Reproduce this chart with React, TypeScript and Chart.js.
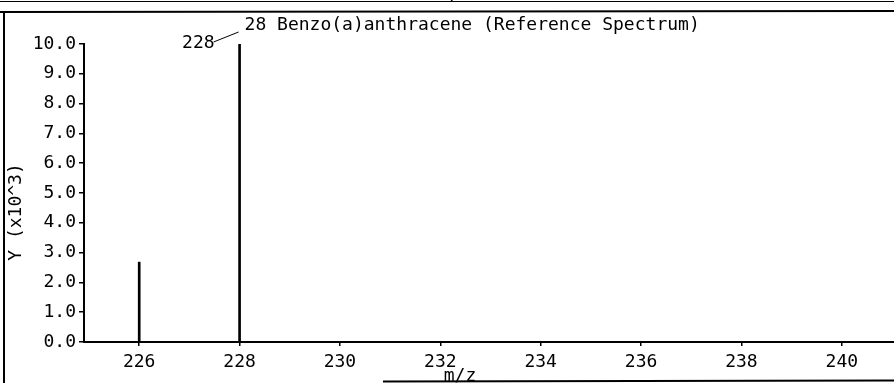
import React, { useEffect, useRef } from "react";
import { Chart, registerables } from "chart.js";

Chart.register(...registerables);

// ---- data ----
const peakMz = [226, 228];
const peakIntensity = [2.68, 10.0];
const xTickValues = [226, 228, 230, 232, 234, 236, 238, 240];
const yTickValues = [0, 1, 2, 3, 4, 5, 6, 7, 8, 9, 10];
const chartTitle = "28 Benzo(a)anthracene (Reference Spectrum)";
const yAxisTitle = "Y (x10^3)";
const xAxisTitle = "m/z";
const labeledPeak = 228;
const xMin = 224.9;
const xMax = 241.04;
const yMin = 0;
const yMax = 10;

const W = 894;
const H = 383;
const FONT = '"DejaVu Sans Mono", "Liberation Mono", monospace';

const decorPlugin = {
  id: "decor",
  afterDraw(chart: any) {
    const ctx = chart.ctx as CanvasRenderingContext2D;
    const xs = chart.scales.x;
    const ys = chart.scales.y;
    ctx.save();
    ctx.strokeStyle = "#000";
    ctx.fillStyle = "#000";

    // frame
    ctx.lineWidth = 1;
    ctx.beginPath();
    ctx.moveTo(0, 1.5);
    ctx.lineTo(W, 1.5);
    ctx.stroke();
    ctx.lineWidth = 2;
    ctx.beginPath();
    ctx.moveTo(0, 12);
    ctx.lineTo(W, 11);
    ctx.stroke();
    ctx.beginPath();
    ctx.moveTo(4, 12);
    ctx.lineTo(4, H);
    ctx.stroke();
    ctx.beginPath();
    ctx.moveTo(383, 381.5);
    ctx.lineTo(W, 380.5);
    ctx.stroke();

    ctx.font = `18px ${FONT}`;
    ctx.textBaseline = "middle";

    // clipped label from the panel above
    ctx.textAlign = "center";
    ctx.fillText(xAxisTitle, 455, -5);

    // title and peak label
    const px = xs.getPixelForValue(labeledPeak);
    const top = ys.getPixelForValue(yMax);
    ctx.textAlign = "left";
    ctx.fillText(chartTitle, px + 5, 25);
    ctx.textAlign = "right";
    ctx.fillText(String(labeledPeak), px - 25, top - 1);
    ctx.lineWidth = 1;
    ctx.beginPath();
    ctx.moveTo(px - 26, top - 2);
    ctx.lineTo(px - 1, top - 12);
    ctx.stroke();

    // axis titles
    ctx.textAlign = "center";
    ctx.fillText(xAxisTitle, 460, 376);
    ctx.save();
    ctx.translate(16, 212);
    ctx.rotate(-Math.PI / 2);
    ctx.fillText(yAxisTitle, 0, 0);
    ctx.restore();

    ctx.restore();
  },
};

export default function App() {
  const ref = useRef<HTMLCanvasElement | null>(null);

  useEffect(() => {
    if (!ref.current) return;
    const chart = new Chart(ref.current, {
      type: "bar",
      data: {
        datasets: [
          {
            data: peakMz.map((m, i) => ({ x: m, y: peakIntensity[i] })),
            backgroundColor: "#000",
            borderWidth: 0,
            barThickness: 2,
          },
        ],
      },
      options: {
        animation: false,
        responsive: false,
        devicePixelRatio: 1,
        layout: { padding: { top: 44, left: 0, right: 0, bottom: 0 } },
        plugins: {
          legend: { display: false },
          title: { display: false },
          tooltip: { enabled: false },
        },
        scales: {
          x: {
            type: "linear",
            min: xMin,
            max: xMax,
            offset: false,
            afterBuildTicks: (scale: any) => {
              scale.ticks = xTickValues.map((v) => ({ value: v }));
            },
            afterFit: (scale: any) => {
              scale.height = 41;
            },
            border: { display: true, color: "#000", width: 2 },
            grid: {
              display: true,
              offset: false,
              drawOnChartArea: false,
              drawTicks: true,
              tickLength: 4,
              color: "#000",
              lineWidth: 1.5,
            },
            ticks: {
              color: "#000",
              font: { family: FONT, size: 18 },
              padding: 6,
              maxRotation: 0,
              autoSkip: false,
              callback: (v: any) => String(v),
            },
          },
          y: {
            type: "linear",
            min: yMin,
            max: yMax,
            afterBuildTicks: (scale: any) => {
              scale.ticks = yTickValues.map((v) => ({ value: v }));
            },
            afterFit: (scale: any) => {
              scale.width = 84;
            },
            border: { display: true, color: "#000", width: 2 },
            grid: {
              display: true,
              drawOnChartArea: false,
              drawTicks: true,
              tickLength: 5,
              color: "#000",
              lineWidth: 1.5,
            },
            ticks: {
              color: "#000",
              font: { family: FONT, size: 18 },
              padding: 3,
              autoSkip: false,
              callback: (v: any) => Number(v).toFixed(1),
            },
          },
        },
      },
      plugins: [decorPlugin],
    } as any);
    return () => chart.destroy();
  }, []);

  return (
    <div style={{ position: "absolute", left: 0, top: 0, width: W, height: H, background: "#fff" }}>
      <canvas ref={ref} width={W} height={H} style={{ display: "block", width: W, height: H }} />
    </div>
  );
}
